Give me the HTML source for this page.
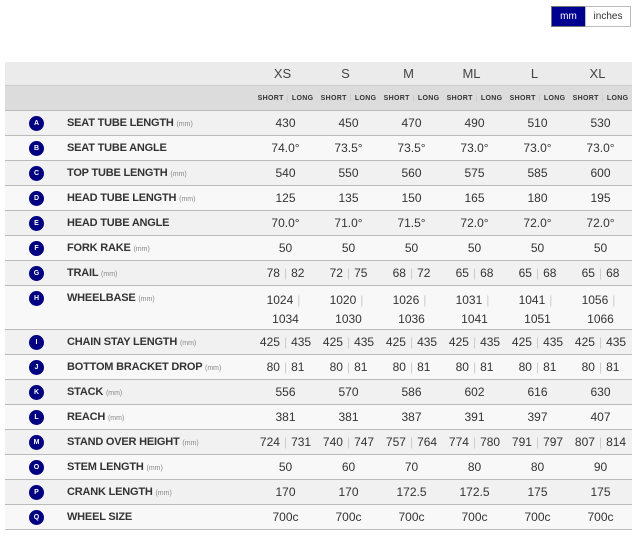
<!DOCTYPE html>
<html><head><meta charset="utf-8"><style>
*{margin:0;padding:0;box-sizing:border-box}
body{width:638px;height:542px;background:#fff;font-family:"Liberation Sans",sans-serif;color:#333;position:relative;overflow:hidden}
.btn{position:absolute;top:6px;height:21px;font-size:10px;line-height:19px;text-align:center;border:1px solid #bbb}
.tbl{position:absolute;left:5px;top:62px;width:627px}
.row{position:relative;border-bottom:1px solid #bbb;height:25px}
.row .ic{position:absolute;left:24px;top:5px;width:15px;height:15px;border-radius:50%;background:#000080;color:#fff;font-size:7px;font-weight:bold;text-align:center;line-height:15px}
.row .lb{position:absolute;left:62px;top:0;line-height:25px;font-size:11px;font-weight:bold;color:#333;letter-spacing:-0.2px}
.row .lb small{font-size:7px;font-weight:normal;color:#888;letter-spacing:0}
.c{position:absolute;top:0;width:63px;text-align:center;line-height:25px;font-size:12px;color:#333;white-space:nowrap}
.s{color:#ccc;margin:0 4px}
</style></head><body>
<div class="btn" style="left:551px;width:35px;background:#000090;color:#fff;border-color:#777">mm</div>
<div class="btn" style="left:585px;width:46px;background:#fff;color:#333">inches</div>
<div class="tbl" id="t"></div>
<script>
const t=document.getElementById('t');
const X=[249,312,375,438,501,564];
let h='<div class="row" style="background:#ebebeb;height:24px;border-bottom:1px solid #ccc">';
['XS','S','M','ML','L','XL'].forEach((s,i)=>h+=`<div class="c" style="left:${X[i]-3}px;line-height:24px;font-size:13px;color:#444">${s}</div>`);
h+='</div><div class="row" style="background:#dcdcdc;height:25px">';
X.forEach(x=>h+=`<div class="c" style="left:${x}px;font-size:7px;font-weight:bold;letter-spacing:.3px;color:#333">SHORT<span class="s" style="margin:0 3px">|</span>LONG</div>`);
h+='</div>';
const S=(a,b)=>`${a}<span class="s">|</span>${b}`;
const rows=[
['A','SEAT TUBE LENGTH',1,[430,450,470,490,510,530]],
['B','SEAT TUBE ANGLE',0,['74.0°','73.5°','73.5°','73.0°','73.0°','73.0°']],
['C','TOP TUBE LENGTH',1,[540,550,560,575,585,600]],
['D','HEAD TUBE LENGTH',1,[125,135,150,165,180,195]],
['E','HEAD TUBE ANGLE',0,['70.0°','71.0°','71.5°','72.0°','72.0°','72.0°']],
['F','FORK RAKE',1,[50,50,50,50,50,50]],
['G','TRAIL',1,[S(78,82),S(72,75),S(68,72),S(65,68),S(65,68),S(65,68)]],
['H','WHEELBASE',1,[[1024,1034],[1020,1030],[1026,1036],[1031,1041],[1041,1051],[1056,1066]]],
['I','CHAIN STAY LENGTH',1,[S(425,435),S(425,435),S(425,435),S(425,435),S(425,435),S(425,435)]],
['J','BOTTOM BRACKET DROP',1,[S(80,81),S(80,81),S(80,81),S(80,81),S(80,81),S(80,81)]],
['K','STACK',1,[556,570,586,602,616,630]],
['L','REACH',1,[381,381,387,391,397,407]],
['M','STAND OVER HEIGHT',1,[S(724,731),S(740,747),S(757,764),S(774,780),S(791,797),S(807,814)]],
['O','STEM LENGTH',1,[50,60,70,80,80,90]],
['P','CRANK LENGTH',1,[170,170,'172.5','172.5',175,175]],
['Q','WHEEL SIZE',0,['700c','700c','700c','700c','700c','700c']]];
rows.forEach((r,k)=>{
 const tall=r[0]=='H';
 h+=`<div class="row" style="background:${k%2?'#f8f8f8':'#f1f1f1'};${tall?'height:44px':''}"><div class="ic">${r[0]}</div><div class="lb">${r[1]}${r[2]?' <small>(mm)</small>':''}</div>`;
 r[3].forEach((v,i)=>{
  if(tall) h+=`<div class="c" style="left:${X[i]}px;top:2px;line-height:25px">${v[0]}<span class="s">|</span><br><span style="position:relative;top:-6px">${v[1]}</span></div>`;
  else h+=`<div class="c" style="left:${X[i]}px">${v}</div>`;
 });
 h+='</div>';
});
t.innerHTML=h;
</script>
</body></html>
